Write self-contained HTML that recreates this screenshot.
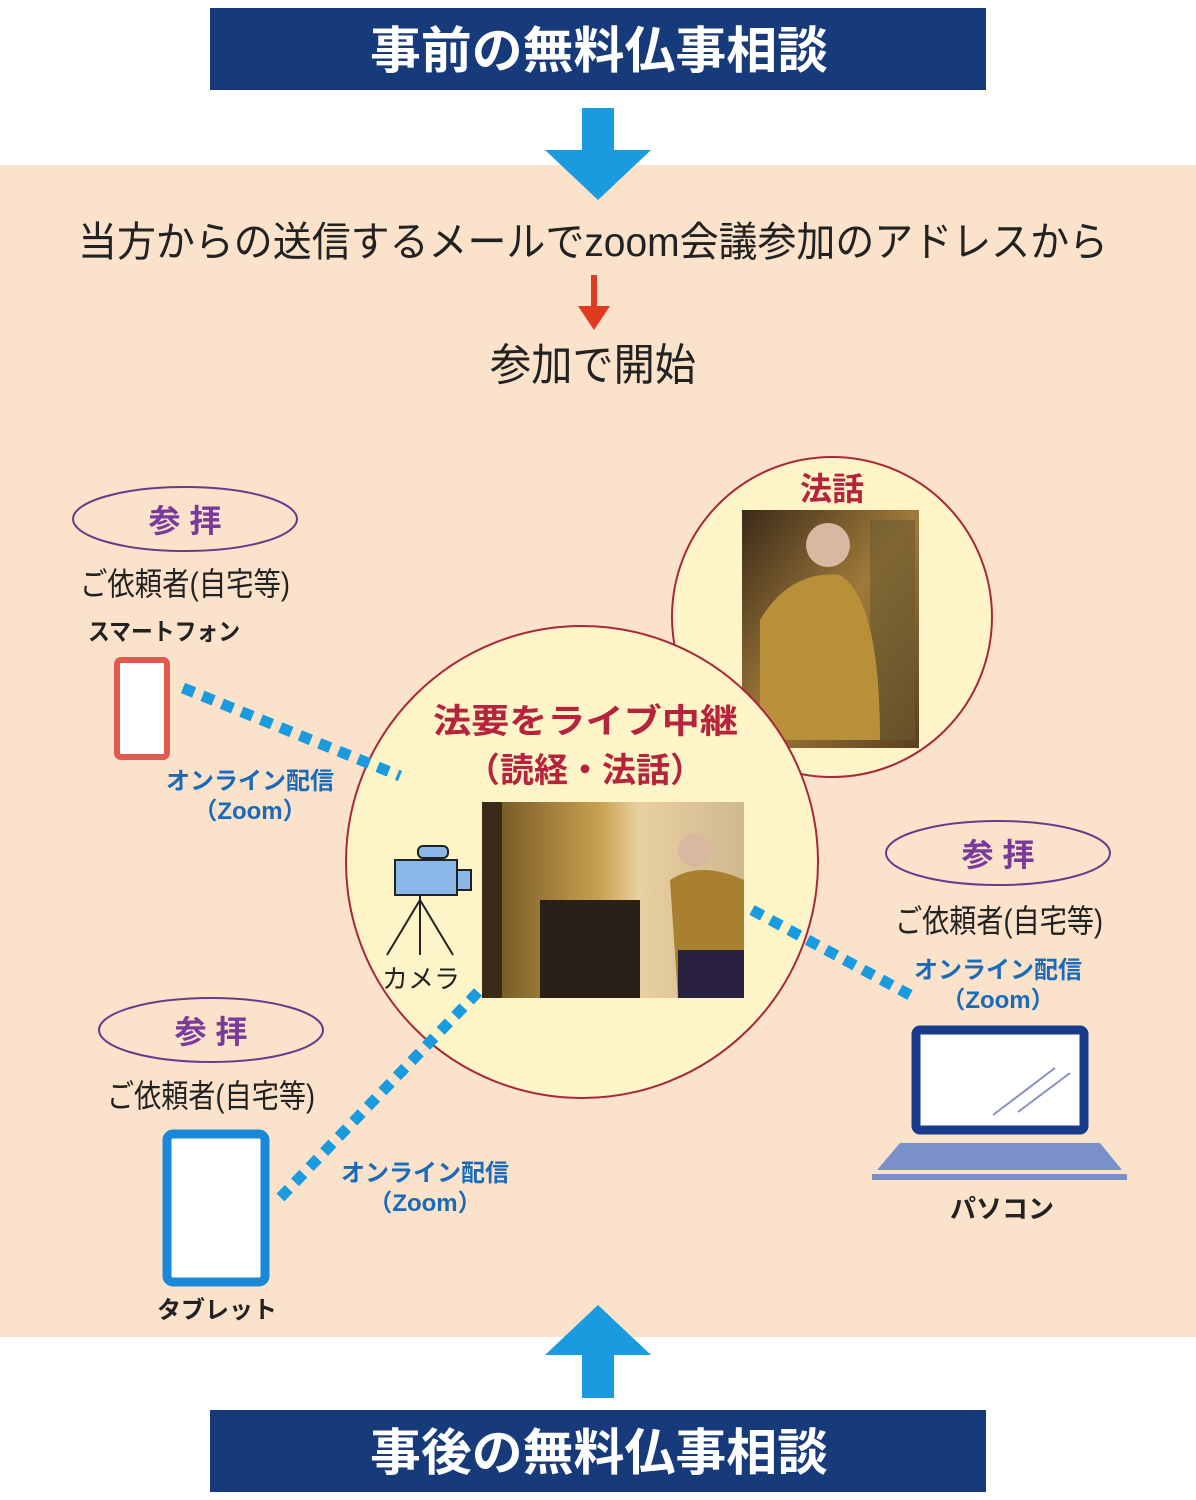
<!DOCTYPE html>
<html><head><meta charset="utf-8"><style>
html,body{margin:0;padding:0;background:#fff}
svg{display:block}
text{font-family:"Liberation Sans","Noto Sans CJK JP",sans-serif}
</style></head><body>
<svg width="1196" height="1500" viewBox="0 0 1196 1500" xmlns="http://www.w3.org/2000/svg">
<defs>
<linearGradient id="g1" x1="0" y1="0" x2="1" y2="1"><stop offset="0" stop-color="#3a2a18"/><stop offset="0.5" stop-color="#a07a3a"/><stop offset="1" stop-color="#5a4020"/></linearGradient>
<linearGradient id="g2" x1="0" y1="0" x2="1" y2="0"><stop offset="0" stop-color="#6a5020"/><stop offset="0.45" stop-color="#c8a050"/><stop offset="0.6" stop-color="#e8d0a0"/><stop offset="1" stop-color="#d0b890"/></linearGradient>
</defs>
<rect x="0" y="165" width="1196" height="1172" fill="#fbe2cb"/>
<rect x="210" y="8" width="776" height="82" fill="#173a7a"/>
<text x="370" y="68" font-size="50" font-weight="bold" fill="#fff" textLength="458" lengthAdjust="spacingAndGlyphs">事前の無料仏事相談</text>
<rect x="210" y="1410" width="776" height="82" fill="#173a7a"/>
<text x="370" y="1470" font-size="50" font-weight="bold" fill="#fff" textLength="458" lengthAdjust="spacingAndGlyphs">事後の無料仏事相談</text>
<rect x="582" y="108" width="32" height="44" fill="#1a9be0"/>
<polygon points="545,150 651,150 598,200" fill="#1a9be0"/>
<rect x="582" y="1352" width="32" height="46" fill="#1a9be0"/>
<polygon points="545,1355 651,1355 598,1305" fill="#1a9be0"/>
<text x="78" y="256" font-size="41" fill="#222" textLength="1030" lengthAdjust="spacingAndGlyphs">当方からの送信するメールでzoom会議参加のアドレスから</text>
<rect x="591" y="275" width="6" height="34" fill="#e03a20"/>
<polygon points="578,306 610,306 594,330" fill="#e03a20"/>
<text x="490" y="380" font-size="44" fill="#222" textLength="206" lengthAdjust="spacingAndGlyphs">参加で開始</text>
<circle cx="832" cy="617" r="160" fill="#fdf5c8" stroke="#a8283a" stroke-width="2"/>
<text x="832" y="500" text-anchor="middle" font-size="32" font-weight="bold" fill="#b5243c">法話</text>
<rect x="742" y="510" width="177" height="238" fill="url(#g1)"/>
<rect x="870" y="520" width="45" height="220" fill="#6a5a30" opacity="0.6"/>
<circle cx="828" cy="545" r="22" fill="#d8b8a0"/>
<path d="M760 620 Q790 570 840 575 Q880 600 880 740 L760 740 Z" fill="#b8903a"/>
<circle cx="582" cy="862" r="236" fill="#fdf5c8" stroke="#a8283a" stroke-width="2"/>
<text x="433" y="733" font-size="34" font-weight="bold" fill="#b5243c" textLength="305" lengthAdjust="spacingAndGlyphs">法要をライブ中継</text>
<text x="585" y="782" text-anchor="middle" font-size="34" font-weight="bold" fill="#b5243c">（読経・法話）</text>
<rect x="482" y="802" width="262" height="196" fill="url(#g2)"/>
<rect x="482" y="802" width="20" height="196" fill="#3a2a18"/>
<rect x="540" y="900" width="100" height="98" fill="#2a2018"/>
<circle cx="695" cy="850" r="17" fill="#d8b8a0"/>
<path d="M670 880 Q700 860 744 880 L744 998 L678 998 Z" fill="#a88030"/>
<rect x="678" y="950" width="66" height="48" fill="#2a2040"/>
<rect x="395" y="860" width="62" height="35" fill="#8ab8e8" stroke="#222" stroke-width="2"/>
<rect x="457" y="870" width="14" height="20" fill="#8ab8e8" stroke="#222" stroke-width="2"/>
<rect x="418" y="846" width="30" height="12" rx="5" fill="#8ab8e8" stroke="#222" stroke-width="2"/>
<path d="M420 895 L420 955 M420 900 L387 955 M420 900 L453 955" stroke="#222" stroke-width="2" fill="none"/>
<text x="421" y="988" text-anchor="middle" font-size="26" fill="#222">カメラ</text>
<g stroke="#1a9be0" stroke-width="11" stroke-dasharray="12 9" fill="none">
<line x1="183" y1="688" x2="400" y2="776"/>
<line x1="478" y1="992" x2="278" y2="1200"/>
<line x1="752" y1="910" x2="910" y2="995"/>
</g>
<ellipse cx="185" cy="519" rx="112" ry="32" fill="none" stroke="#6a3a8a" stroke-width="2"/>
<text x="185" y="532" text-anchor="middle" font-size="32" font-weight="bold" fill="#7a3a9a">参 拝</text>
<text x="80" y="595" font-size="32" fill="#222" textLength="210" lengthAdjust="spacingAndGlyphs">ご依頼者(自宅等)</text>
<text x="88" y="640" font-size="24" font-weight="bold" fill="#222" textLength="152" lengthAdjust="spacingAndGlyphs">スマートフォン</text>
<rect x="117" y="660" width="50" height="97" rx="4" fill="#fff" stroke="#e05a50" stroke-width="6"/>
<text x="250" y="789" text-anchor="middle" font-size="24" font-weight="bold" fill="#1a6ab8">オンライン配信</text>
<text x="250" y="819" text-anchor="middle" font-size="24" font-weight="bold" fill="#1a6ab8">（Zoom）</text>
<ellipse cx="998" cy="853" rx="112" ry="32" fill="none" stroke="#6a3a8a" stroke-width="2"/>
<text x="998" y="866" text-anchor="middle" font-size="32" font-weight="bold" fill="#7a3a9a">参 拝</text>
<text x="895" y="932" font-size="32" fill="#222" textLength="208" lengthAdjust="spacingAndGlyphs">ご依頼者(自宅等)</text>
<text x="998" y="978" text-anchor="middle" font-size="24" font-weight="bold" fill="#1a6ab8">オンライン配信</text>
<text x="998" y="1008" text-anchor="middle" font-size="24" font-weight="bold" fill="#1a6ab8">（Zoom）</text>
<rect x="916" y="1030" width="168" height="100" rx="4" fill="#fff" stroke="#173a8a" stroke-width="9"/>
<line x1="993" y1="1115" x2="1055" y2="1068" stroke="#8890c0" stroke-width="2"/>
<line x1="1018" y1="1112" x2="1070" y2="1073" stroke="#8890c0" stroke-width="2"/>
<polygon points="900,1143 1100,1143 1122,1170 877,1170" fill="#7a90c8"/>
<rect x="872" y="1174" width="255" height="6" fill="#7a90c8"/>
<text x="1002" y="1218" text-anchor="middle" font-size="26" font-weight="bold" fill="#222">パソコン</text>
<ellipse cx="211" cy="1030" rx="112" ry="32" fill="none" stroke="#6a3a8a" stroke-width="2"/>
<text x="211" y="1043" text-anchor="middle" font-size="32" font-weight="bold" fill="#7a3a9a">参 拝</text>
<text x="107" y="1107" font-size="32" fill="#222" textLength="208" lengthAdjust="spacingAndGlyphs">ご依頼者(自宅等)</text>
<rect x="167" y="1134" width="98" height="148" rx="6" fill="#fff" stroke="#1a88d8" stroke-width="9"/>
<text x="217" y="1318" text-anchor="middle" font-size="24" font-weight="bold" fill="#222">タブレット</text>
<text x="425" y="1181" text-anchor="middle" font-size="24" font-weight="bold" fill="#1a6ab8">オンライン配信</text>
<text x="425" y="1211" text-anchor="middle" font-size="24" font-weight="bold" fill="#1a6ab8">（Zoom）</text>
</svg>
</body></html>
